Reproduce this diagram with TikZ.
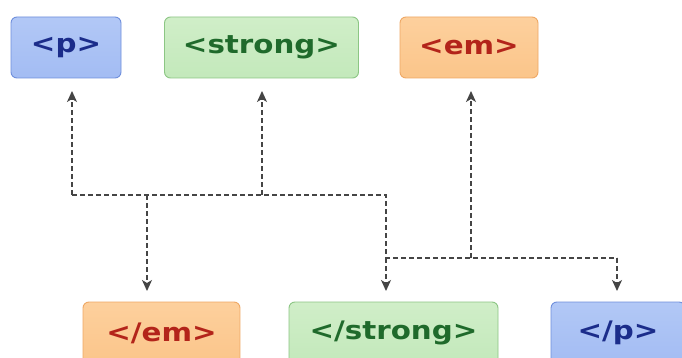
\documentclass[tikz,border=0pt]{standalone}
\usepackage{fontspec}
\newfontfamily\tagfont{DejaVu Sans}[FakeStretch=1.15]
\usetikzlibrary{arrows.meta}

% tag palette
\definecolor{pfill}{HTML}{A3BCF3}
\definecolor{pfilltop}{HTML}{B2C8F6}
\definecolor{pline}{HTML}{6F8FDC}
\definecolor{ptext}{HTML}{1B2C8A}
\definecolor{sfill}{HTML}{C3E9BB}
\definecolor{sfilltop}{HTML}{D0EEC8}
\definecolor{sline}{HTML}{8CC684}
\definecolor{stext}{HTML}{1F6A2B}
\definecolor{efill}{HTML}{FBC58A}
\definecolor{efilltop}{HTML}{FDD09D}
\definecolor{eline}{HTML}{EFA865}
\definecolor{etext}{HTML}{B3241A}
\definecolor{link}{HTML}{454545}

\tikzset{
  tagbox/.style={rounded corners=6pt, line width=0.9pt, inner sep=0pt,
    font=\tagfont\bfseries\fontsize{25.5}{27}\selectfont},
  ptag/.style={tagbox, draw=pline, top color=pfilltop, bottom color=pfill, text=ptext},
  stag/.style={tagbox, draw=sline, top color=sfilltop, bottom color=sfill, text=stext},
  etag/.style={tagbox, draw=eline, top color=efilltop, bottom color=efill, text=etext},
  link/.style={draw=link, line width=1.4pt, dash pattern=on 5pt off 3pt},
  linkarrow/.style={link, -{Stealth[length=11pt,width=10pt,inset=3pt]}}
}

\begin{document}
\begin{tikzpicture}[x=1pt, y=-1pt]
  \useasboundingbox[fill=white] (0,0) rectangle (682,358);

  % opening tags
  \node[ptag, minimum width=110pt, minimum height=61pt] (op) at (66,47.5) {<p>};
  \node[stag, minimum width=194pt, minimum height=61pt] (os) at (261.5,47.5) {<strong>};
  \node[etag, minimum width=138pt, minimum height=61pt] (oe) at (469,47.5) {<em>};

  % closing tags (run past the lower edge)
  \node[etag, minimum width=157pt, minimum height=62pt] (ce) at (161.5,333) {</em>};
  \node[stag, minimum width=209pt, minimum height=62pt] (cs) at (393.5,333) {</strong>};
  \node[ptag, minimum width=134pt, minimum height=62pt] (cp) at (618,333) {</p>};

  % arrow ends and junctions
  \coordinate (up1) at (72,91);
  \coordinate (up2) at (262,91);
  \coordinate (up3) at (471,91);
  \coordinate (dn1) at (147,291);
  \coordinate (dn2) at (386,291);
  \coordinate (dn3) at (617,291);
  \coordinate (a1) at (72,195);
  \coordinate (a2) at (147,195);
  \coordinate (a3) at (262,195);
  \coordinate (a4) at (386,195);
  \coordinate (b1) at (386,258);
  \coordinate (b2) at (471,258);
  \coordinate (b3) at (617,258);

  % crossing bus lines
  \draw[link] (a1) -- (a4) -- (b1) -- (b3);
  \draw[linkarrow] (a1) -- (up1);
  \draw[linkarrow] (a3) -- (up2);
  \draw[linkarrow] (a2) -- (dn1);
  \draw[linkarrow] (b1) -- (dn2);
  \draw[linkarrow] (b2) -- (up3);
  \draw[linkarrow] (b3) -- (dn3);
\end{tikzpicture}
\end{document}
